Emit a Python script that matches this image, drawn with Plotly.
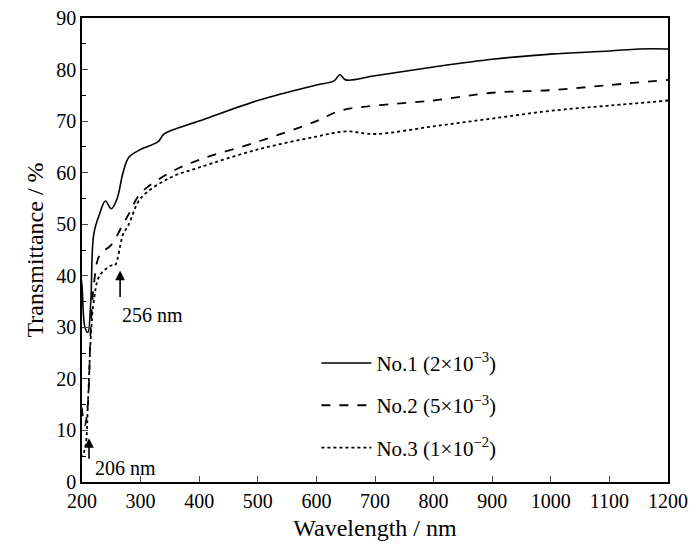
import plotly.graph_objects as go

wl1 = [196, 200, 205, 210, 215, 220, 230, 240, 250, 260, 270, 280, 300, 330, 340, 400, 500, 600, 630, 640, 650, 700, 800, 900, 1000, 1100, 1150, 1200]
t1 = [42, 38, 30, 29, 35, 48, 52, 54.5, 53, 55, 60, 63, 64.5, 66, 67.5, 70, 74, 77, 77.8, 79, 78, 78.8, 80.5, 82, 83, 83.6, 84, 84]

wl2 = [196, 200, 205, 210, 215, 220, 230, 250, 270, 280, 300, 350, 400, 500, 600, 640, 700, 800, 900, 1000, 1100, 1200]
t2 = [25, 14, 11, 15, 30, 38, 44, 46, 50, 52, 56, 60, 62.5, 66, 70, 72, 73, 74, 75.5, 76, 77, 78]

wl3 = [196, 200, 206, 210, 215, 220, 230, 250, 256, 270, 280, 300, 350, 400, 500, 600, 650, 700, 800, 900, 1000, 1100, 1200]
t3 = [10, 5, 7, 15, 28, 35, 40, 42, 42, 48, 50, 55, 59, 61, 64.5, 67, 68, 67.5, 69, 70.5, 72, 73, 74]

names = ["No.1 (2×10<sup>−3</sup>)", "No.2 (5×10<sup>−3</sup>)", "No.3 (1×10<sup>−2</sup>)"]

fig = go.Figure()
fig.add_trace(go.Scatter(x=wl1, y=t1, name=names[0], legendgroup="a", mode="lines",
                         line=dict(color="black", width=1.6, shape="spline")))
fig.add_trace(go.Scatter(x=wl2, y=t2, name=names[1], legendgroup="b", mode="lines",
                         line=dict(color="black", width=1.8, dash="dash", shape="spline")))
fig.add_trace(go.Scatter(x=wl3, y=t3, name=names[2], legendgroup="c", mode="lines",
                         line=dict(color="black", width=1.8, dash="dot", shape="spline")))

fig.add_annotation(x=265, y=41, ax=0, ay=28, text="", showarrow=True, arrowhead=2, arrowsize=1.2,
                   arrowwidth=1.6, arrowcolor="black")
fig.add_annotation(x=321, y=32.4, text="256 nm", showarrow=False, font=dict(size=20))
fig.add_annotation(x=212, y=8.5, ax=0, ay=22, text="", showarrow=True, arrowhead=2, arrowsize=1.2,
                   arrowwidth=1.6, arrowcolor="black")
fig.add_annotation(x=275, y=2.7, text="206 nm", showarrow=False, font=dict(size=20))

fig.update_layout(
    width=700, height=559,
    plot_bgcolor="white", paper_bgcolor="white",
    font=dict(family="Liberation Serif", size=20, color="black"),
    margin=dict(l=74, r=40, t=10, b=85, autoexpand=False),
    showlegend=True,
    legend=dict(x=0.40, y=0.30, xanchor="left", yanchor="top", bgcolor="rgba(0,0,0,0)",
                font=dict(size=21), itemwidth=50, tracegroupgap=12, traceorder="grouped"),
)
fig.update_xaxes(range=[200, 1200], dtick=100, ticks="inside", ticklen=6, showline=True, linecolor="black",
                 linewidth=1.5, mirror=True, showgrid=False, zeroline=False, automargin=False,
                 ticklabeloverflow="allow",
                 title=dict(text="Wavelength / nm", standoff=8))
fig.update_yaxes(range=[0, 90], dtick=10, ticks="inside", ticklen=6, showline=True, linecolor="black",
                 linewidth=1.5, mirror=True, showgrid=False, zeroline=False, automargin=False,
                 ticklabeloverflow="allow",
                 minor=dict(dtick=5, ticks="inside", ticklen=4, tickcolor="black"),
                 title=dict(text="Transmittance / %", standoff=6))
fig.write_html("out.html")
